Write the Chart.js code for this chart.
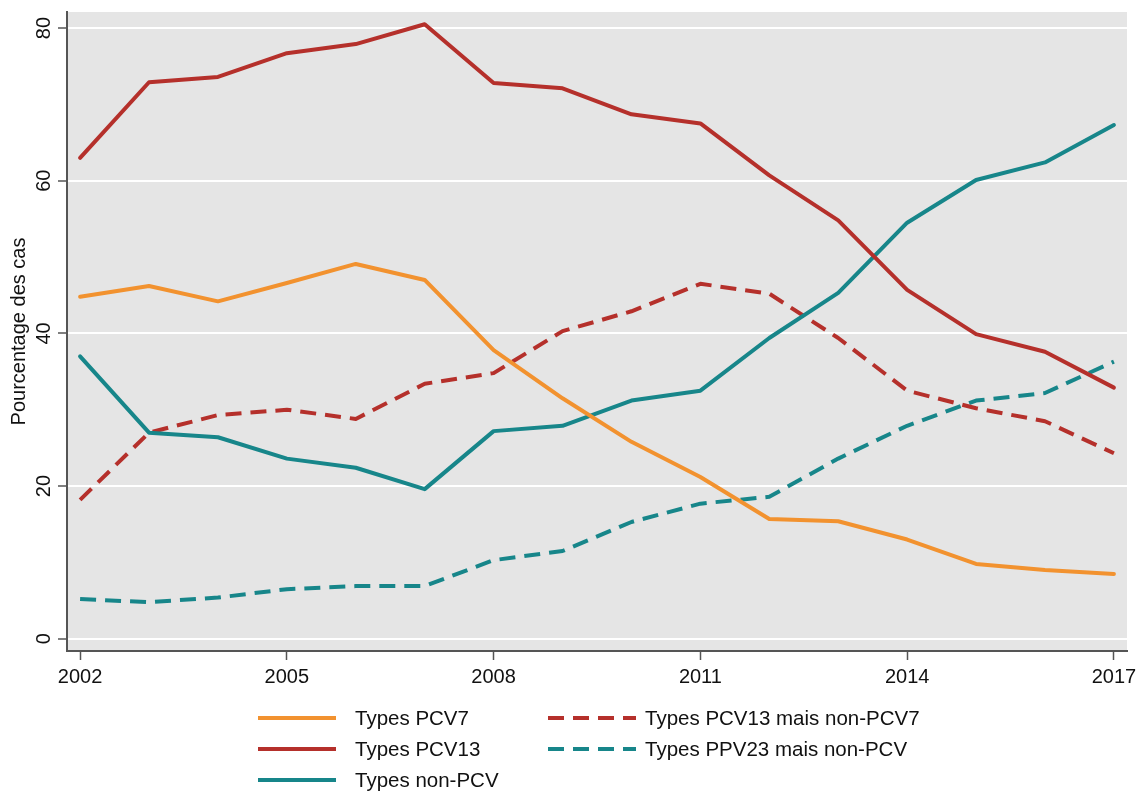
<!DOCTYPE html>
<html>
<head>
<meta charset="utf-8">
<script src="https://cdn.jsdelivr.net/npm/chart.js@4"></script>
<style>
  body { margin: 0; background: #fff; }
  #wrap { position: relative; width: 1138px; height: 796px; }
  #legend { position: absolute; left: 0; top: 0; width: 1138px; height: 796px; pointer-events: none;
            font-family: "Liberation Sans", Arial, sans-serif; font-size: 20.5px; color: #111; }
  .item { position: absolute; height: 28px; line-height: 28px; white-space: nowrap; }
  .item svg { position: absolute; top: 0; }
  .item span { position: absolute; top: 0; }
</style>
</head>
<body>
<div id="wrap">
  <canvas id="chart" width="1138" height="796"></canvas>
  <div id="legend"></div>
</div>
<script>
// Années et séries (pourcentage des cas)
const annees = [2002, 2003, 2004, 2005, 2006, 2007, 2008, 2009, 2010, 2011, 2012, 2013, 2014, 2015, 2016, 2017];
const pcv7 = [44.8, 46.2, 44.2, 46.6, 49.1, 47.0, 37.8, 31.5, 25.8, 21.2, 15.7, 15.4, 13.0, 9.8, 9.0, 8.5];
const pcv13 = [63.0, 72.9, 73.6, 76.7, 77.9, 80.5, 72.8, 72.1, 68.7, 67.5, 60.7, 54.8, 45.7, 39.9, 37.6, 32.9];
const nonPcv = [37.0, 27.0, 26.4, 23.6, 22.4, 19.6, 27.2, 27.9, 31.2, 32.5, 39.4, 45.3, 54.5, 60.1, 62.4, 67.3];
const pcv13NonPcv7 = [18.2, 27.0, 29.3, 30.0, 28.8, 33.4, 34.8, 40.3, 42.9, 46.5, 45.2, 39.4, 32.5, 30.2, 28.5, 24.3];
const ppv23NonPcv = [5.2, 4.8, 5.4, 6.5, 6.9, 6.9, 10.3, 11.5, 15.3, 17.7, 18.6, 23.6, 27.9, 31.2, 32.2, 36.3];

const xTicks = [2002, 2005, 2008, 2011, 2014, 2017];
const yTicks = [0, 20, 40, 60, 80];
const yTitle = 'Pourcentage des cas';

const ORANGE = '#f2922f';
const RED = '#b5302b';
const TEAL = '#17868a';

// séries: label, valeurs, couleur, pointillé
const series = [
    { label: 'Types PCV7', data: pcv7, color: ORANGE, dash: false },
    { label: 'Types PCV13', data: pcv13, color: RED, dash: false },
    { label: 'Types non-PCV', data: nonPcv, color: TEAL, dash: false },
    { label: 'Types PCV13 mais non-PCV7', data: pcv13NonPcv7, color: RED, dash: true },
    { label: 'Types PPV23 mais non-PCV', data: ppv23NonPcv, color: TEAL, dash: true }
];

const datasets = series.map(s => ({
    label: s.label,
    data: s.data.map((v, i) => ({ x: annees[i], y: v })),
    borderColor: s.color,
    borderWidth: 4,
    borderDash: s.dash ? [16, 9] : [],
    borderCapStyle: s.dash ? 'butt' : 'round',
    borderJoinStyle: 'round',
    pointRadius: 0,
    tension: 0,
    fill: false
}));

// fond gris de la zone de tracé
const plotBg = {
    id: 'plotBg',
    beforeDraw(chart) {
        const { ctx, chartArea: a } = chart;
        ctx.save();
        ctx.fillStyle = '#e5e5e5';
        ctx.fillRect(a.left, a.top, a.right - a.left, a.bottom - a.top);
        ctx.restore();
    }
};

const font = { family: '"Liberation Sans", Arial, sans-serif', size: 20 };

new Chart(document.getElementById('chart').getContext('2d'), {
    type: 'line',
    data: { datasets },
    plugins: [plotBg],
    options: {
        responsive: false,
        animation: false,
        layout: { padding: { top: 12, right: 11, left: 0, bottom: 0 } },
        plugins: { legend: { display: false }, tooltip: { enabled: false } },
        scales: {
            x: {
                type: 'linear',
                min: 2001.81,
                max: 2017.19,
                afterBuildTicks: scale => { scale.ticks = xTicks.map(v => ({ value: v })); },
                afterFit: scale => { scale.height = 145; scale.paddingLeft = 0; scale.paddingRight = 0; },
                ticks: { callback: v => String(v), color: '#111', font, padding: 5, maxRotation: 0 },
                grid: { drawOnChartArea: false, drawTicks: true, tickLength: 9, tickColor: '#555', tickWidth: 1.5 },
                border: { display: true, color: '#555', width: 2 }
            },
            y: {
                min: -1.6,
                max: 82.1,
                afterBuildTicks: scale => { scale.ticks = yTicks.map(v => ({ value: v })); },
                afterFit: scale => { scale.width = 67; scale.paddingTop = 0; scale.paddingBottom = 0; },
                ticks: { color: '#111', font, minRotation: 90, maxRotation: 90, crossAlign: 'center', padding: 2 },
                grid: { color: '#ffffff', lineWidth: 2, drawTicks: true, tickLength: 9, tickColor: '#555', tickWidth: 1.5 },
                border: { display: true, color: '#555', width: 2 },
                title: { display: true, text: yTitle, color: '#111', font, padding: { top: 7, bottom: 0 } }
            }
        }
    }
});

// légende en deux colonnes sous le graphique
const legendPos = [
    { col: 0, row: 0 }, { col: 0, row: 1 }, { col: 0, row: 2 },
    { col: 1, row: 0 }, { col: 1, row: 1 }
];
const cols = [{ lineX: 258, lineW: 78, textX: 355 }, { lineX: 548, lineW: 88, textX: 645 }];
const rowsY = [704, 735, 766];
const legend = document.getElementById('legend');
series.forEach((s, i) => {
    const c = cols[legendPos[i].col];
    const div = document.createElement('div');
    div.className = 'item';
    div.style.left = '0px';
    div.style.top = rowsY[legendPos[i].row] + 'px';
    const dash = s.dash ? 'stroke-dasharray="16 9"' : '';
    div.innerHTML =
        `<svg style="left:${c.lineX}px" width="${c.lineW}" height="28"><line x1="0" y1="14" x2="${c.lineW}" y2="14" stroke="${s.color}" stroke-width="4" ${dash}/></svg>` +
        `<span style="left:${c.textX}px">${s.label}</span>`;
    legend.appendChild(div);
});
</script>
</body>
</html>
